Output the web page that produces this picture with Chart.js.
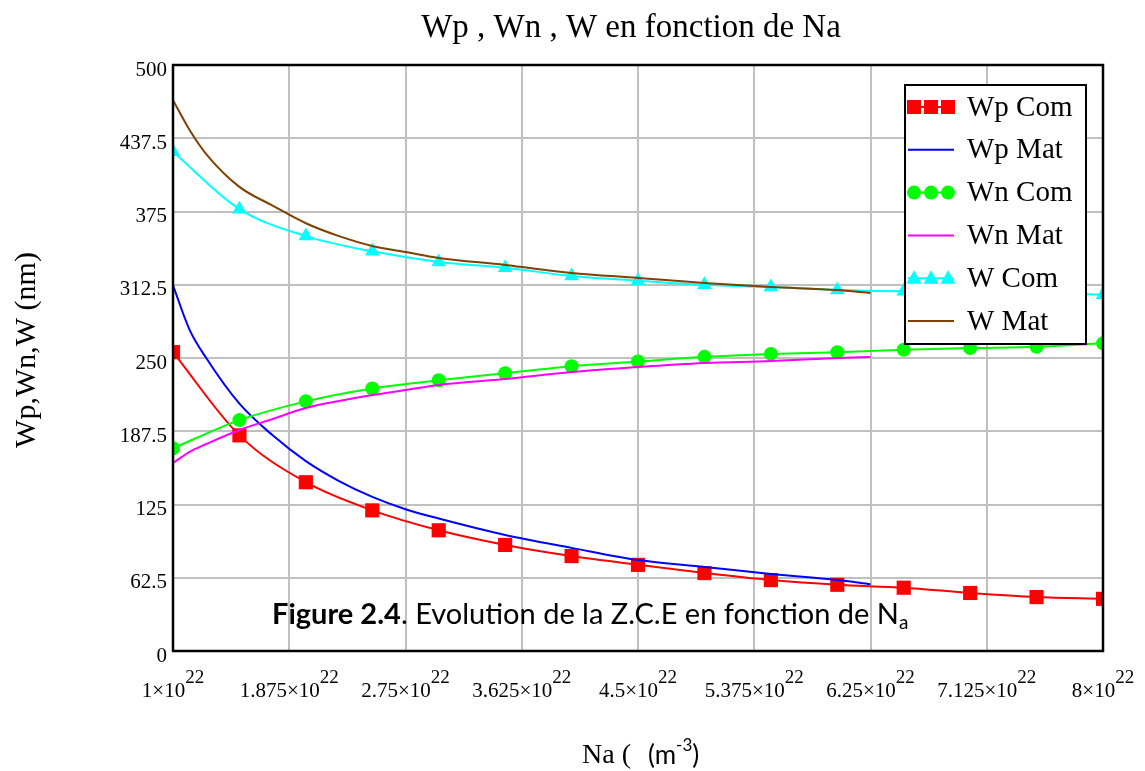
<!DOCTYPE html>
<html>
<head>
<meta charset="utf-8">
<title>Wp , Wn , W en fonction de Na</title>
<script src="https://cdn.jsdelivr.net/npm/chart.js@4.4.1/dist/chart.umd.min.js"></script>
<style>
  html, body { margin: 0; padding: 0; background: #fff; }
  #wrap { width: 1145px; height: 771px; }
</style>
</head>
<body>
<div id="wrap"><canvas id="zce" width="1145" height="771"></canvas></div>
<script>
// Na en unités de 1e22 m^-3, largeurs en nm
const naCom = [1, 1.5, 2, 2.5, 3, 3.5, 4, 4.5, 5, 5.5, 6, 6.5, 7, 7.5, 8];
const wpCom = [255, 184, 144, 120, 103, 90.5, 81, 73.5, 66.5, 60.5, 56.5, 54, 49.5, 46, 44.5];
const wnCom = [173, 197, 213, 224, 231, 237, 243, 247, 251, 253.5, 255, 257, 258.5, 259.5, 262.5];
const wCom = [426, 377, 354, 341, 332, 327, 320, 316, 312.5, 310.5, 308, 307, 307, 305.5, 304];

const naMat = [1, 1.125, 1.25, 1.5, 1.75, 2, 2.25, 2.5, 2.75, 3, 3.5, 4, 4.5, 5, 5.5, 6, 6.25];
const wpMat = [312, 274, 250, 211, 184, 162, 145, 131.5, 121, 113, 99, 88, 77.6, 71.7, 65.7, 60.6, 57];
const wnMat = [160.4, 170, 176.6, 188.6, 198, 207.3, 213.3, 218.4, 222.7, 227, 232, 238, 242.3, 245.7, 247.4, 250, 250.9];
const wMat = [470, 444.5, 424, 396, 380, 365, 354, 345.6, 340.4, 335.3, 329.4, 322.5, 318.3, 314, 310.6, 308, 305.5];

const xTicks = [1, 1.875, 2.75, 3.625, 4.5, 5.375, 6.25, 7.125, 8];
const xTickLabels = ['1', '1.875', '2.75', '3.625', '4.5', '5.375', '6.25', '7.125', '8'];
const yTicks = [0, 62.5, 125, 187.5, 250, 312.5, 375, 437.5, 500];
const yTickLabels = ['0', '62.5', '125', '187.5', '250', '312.5', '375', '437.5', '500'];

const SERIF = '"Liberation Serif", "Times New Roman", serif';
const SANS = 'Lato, "Open Sans", sans-serif';

const pts = (xs, ys) => xs.map((x, i) => ({ x, y: ys[i] }));

function series(label, xs, ys, color, marker, radius, order) {
  return {
    label,
    data: pts(xs, ys),
    borderColor: color,
    backgroundColor: color,
    borderWidth: 2,
    pointStyle: marker || 'circle',
    pointRadius: marker ? radius : 0,
    pointBorderWidth: 0,
    pointBackgroundColor: color,
    cubicInterpolationMode: 'monotone',
    order,
  };
}

// petits symboles de la légende
function drawMarker(ctx, style, x, y, color) {
  ctx.fillStyle = color;
  ctx.beginPath();
  if (style === 'rect') {
    ctx.rect(x - 7, y - 7, 14, 14);
  } else if (style === 'circle') {
    ctx.arc(x, y, 7, 0, Math.PI * 2);
  } else if (style === 'triangle') {
    ctx.moveTo(x, y - 8);
    ctx.lineTo(x + 7.5, y + 5.5);
    ctx.lineTo(x - 7.5, y + 5.5);
    ctx.closePath();
  }
  ctx.fill();
}

const decor = {
  id: 'decor',
  afterDatasetsDraw(chart) {
    const { ctx, chartArea: a } = chart;
    ctx.save();
    // cadre du graphe
    ctx.strokeStyle = '#000';
    ctx.lineWidth = 2.5;
    ctx.strokeRect(a.left, a.top, a.right - a.left, a.bottom - a.top);

    // légende
    ctx.fillStyle = '#fff';
    ctx.fillRect(905, 85, 181, 259);
    ctx.lineWidth = 2;
    ctx.strokeRect(905, 85, 181, 259);
    chart.data.datasets.forEach((ds, i) => {
      const y = 107 + i * 42.8;
      ctx.strokeStyle = ds.borderColor;
      ctx.lineWidth = 2;
      ctx.beginPath();
      ctx.moveTo(908, y);
      ctx.lineTo(954, y);
      ctx.stroke();
      if (ds.pointRadius > 0) {
        [914, 931, 948].forEach(mx => drawMarker(ctx, ds.pointStyle, mx, y, ds.borderColor));
      }
      ctx.fillStyle = '#000';
      ctx.font = '29px ' + SERIF;
      ctx.textAlign = 'left';
      ctx.textBaseline = 'middle';
      ctx.fillText(ds.label, 967, y + 1);
    });

    // légende de figure
    ctx.fillStyle = '#000';
    ctx.textBaseline = 'alphabetic';
    ctx.textAlign = 'left';
    let x = 272;
    const base = 624;
    ctx.font = 'bold 29px ' + SANS;
    ctx.fillText('Figure 2.4', x, base);
    x += ctx.measureText('Figure 2.4').width;
    ctx.font = '29px ' + SANS;
    const rest = '. Evolution de la Z.C.E en fonction de N';
    ctx.fillText(rest, x, base);
    x += ctx.measureText(rest).width;
    ctx.font = '19px ' + SANS;
    ctx.fillText('a', x, base + 5);
    ctx.restore();
  },
  afterDraw(chart) {
    const { ctx } = chart;
    const xs = chart.scales.x;
    ctx.save();
    ctx.fillStyle = '#000';

    // titre
    ctx.font = '33px ' + SERIF;
    ctx.textAlign = 'center';
    ctx.textBaseline = 'alphabetic';
    ctx.fillText('Wp , Wn , W en fonction de Na', 631, 37);

    // graduations de l'axe x : mantisse×10^22
    xs.ticks.forEach((t, i) => {
      const px = xs.getPixelForValue(t.value);
      const main = xTickLabels[i] + '×10';
      ctx.font = '21px ' + SERIF;
      const w1 = ctx.measureText(main).width;
      ctx.font = '19px ' + SERIF;
      const w2 = ctx.measureText('22').width;
      const left = px - (w1 + w2) / 2;
      ctx.textAlign = 'left';
      ctx.font = '21px ' + SERIF;
      ctx.fillText(main, left, 697);
      ctx.font = '19px ' + SERIF;
      ctx.fillText('22', left + w1, 683);
    });

    // titre de l'axe y
    ctx.save();
    ctx.translate(35, 350);
    ctx.rotate(-Math.PI / 2);
    ctx.textAlign = 'center';
    ctx.font = '30px ' + SERIF;
    ctx.fillText('Wp,Wn,W (nm)', 0, 0);
    ctx.restore();

    // titre de l'axe x
    ctx.textAlign = 'left';
    ctx.font = '28px ' + SERIF;
    ctx.fillText('Na (', 582, 763);
    let x = 648;
    ctx.font = '26px ' + SANS;
    ctx.fillText('(m', x, 764);
    x += ctx.measureText('(m').width;
    ctx.font = '17px ' + SANS;
    ctx.fillText('-3', x, 751);
    x += ctx.measureText('-3').width;
    ctx.font = '26px ' + SANS;
    ctx.fillText(')', x, 764);
    ctx.restore();
  },
};

const grid = { color: '#c0c0c0', lineWidth: 2, drawTicks: false };

new Chart(document.getElementById('zce').getContext('2d'), {
  type: 'line',
  data: {
    datasets: [
      series('Wp Com', naCom, wpCom, '#ff0000', 'rect', 10, 6),
      series('Wp Mat', naMat, wpMat, '#0000ff', null, 0, 5),
      series('Wn Com', naCom, wnCom, '#00ff00', 'circle', 7, 4),
      series('Wn Mat', naMat, wnMat, '#ff00ff', null, 0, 3),
      series('W Com', naCom, wCom, '#00ffff', 'triangle', 8.5, 2),
      series('W Mat', naMat, wMat, '#804000', null, 0, 1),
    ],
  },
  options: {
    responsive: false,
    animation: false,
    devicePixelRatio: 1,
    layout: { padding: { left: 0, right: 42, top: 65, bottom: 0 } },
    plugins: {
      legend: { display: false },
      tooltip: { enabled: false },
    },
    scales: {
      x: {
        type: 'linear',
        min: 1,
        max: 8,
        afterBuildTicks: (s) => { s.ticks = xTicks.map((v) => ({ value: v })); },
        afterFit: (s) => { s.height = 120; },
        grid,
        border: { display: false },
        ticks: { display: false },
      },
      y: {
        min: 0,
        max: 500,
        afterBuildTicks: (s) => { s.ticks = yTicks.map((v) => ({ value: v })); },
        afterFit: (s) => { s.width = 173; },
        grid,
        border: { display: false },
        ticks: {
          color: '#000',
          font: { family: SERIF, size: 21 },
          padding: 6,
          labelOffset: 5,
          autoSkip: false,
          callback: (v, i) => yTickLabels[i],
        },
      },
    },
  },
  plugins: [decor],
});
</script>
</body>
</html>
